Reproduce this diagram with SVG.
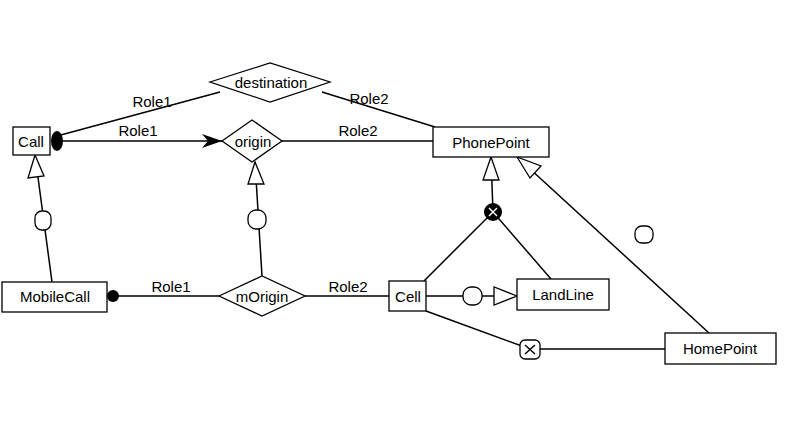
<svg xmlns="http://www.w3.org/2000/svg" width="790" height="423" viewBox="0 0 790 423">
<style>
.b{fill:#fff;stroke:#000;stroke-width:1.3}
.l{fill:none;stroke:#000;stroke-width:1.5}
text{font-family:"Liberation Sans",Arial,sans-serif;font-size:15px;fill:#000}
.c{text-anchor:middle}
</style>
<rect width="790" height="423" fill="#fff"/>
<g id="connectors">
<path class="l" d="M57 136L220 92M322 92L435 127M62 141L222 141M282 141L433 141"/>
<path d="M202 134L222 141L202 148L208 141Z" fill="#000"/>
<path class="l" d="M52 282L35 155M262 276L255 162M491 157L493 212M424 281L493 212L551 279M709 333L517 157M426 296L517 296M426 311L530 349L665 349M113 296L219 296M305 296L389 296"/>
<path class="b" d="M35 155L28 178L44 176Z"/>
<path class="b" d="M255 162L248 184L264 184Z"/>
<path class="b" d="M491 157L483 180L499 180Z"/>
<path class="b" d="M517 157L530 178L541 166Z"/>
<path class="b" d="M517 296L494 287L494 305Z"/>
<rect class="b" x="35" y="211" width="16" height="19" rx="7"/>
<rect class="b" x="248" y="210" width="18" height="19" rx="8"/>
<rect class="b" x="635" y="226" width="18" height="17" rx="7"/>
<rect class="b" x="463" y="287" width="19" height="18" rx="8"/>
<rect class="b" x="520" y="340" width="20" height="19" rx="5"/>
<path class="l" d="M525 345L535 354M535 345L525 354"/>
<circle cx="493" cy="212" r="9" fill="#000"/>
<path d="M489 208L497 216M497 208L489 216" stroke="#fff" stroke-width="1.5"/>
<ellipse cx="57" cy="141" rx="6" ry="10" fill="#000"/>
<circle cx="113" cy="296" r="6" fill="#000"/>
<text x="152" y="107" class="c">Role1</text>
<text x="369" y="104" class="c">Role2</text>
<text x="138" y="136" class="c">Role1</text>
<text x="358" y="136" class="c">Role2</text>
<text x="171" y="292" class="c">Role1</text>
<text x="348" y="292" class="c">Role2</text>
</g>
<g id="destination"><path class="b" d="M210 82L270 63L330 82L270 102Z"/><text x="271" y="88" class="c">destination</text></g>
<g id="origin"><path class="b" d="M222 141L252 120L282 141L252 162Z"/><text x="253" y="147" class="c">origin</text></g>
<g id="mOrigin"><path class="b" d="M219 296L262 276L305 296L262 316Z"/><text x="262" y="302" class="c">mOrigin</text></g>
<g id="Call"><rect class="b" x="13" y="127" width="37" height="28"/><text x="31" y="147" class="c">Call</text></g>
<g id="PhonePoint"><rect class="b" x="433" y="127" width="116" height="30"/><text x="491" y="148" class="c">PhonePoint</text></g>
<g id="MobileCall"><rect class="b" x="2" y="282" width="105" height="30"/><text x="55" y="302" class="c">MobileCall</text></g>
<g id="Cell"><rect class="b" x="389" y="281" width="37" height="30"/><text x="408" y="302" class="c">Cell</text></g>
<g id="LandLine"><rect class="b" x="517" y="279" width="92" height="31"/><text x="563" y="300" class="c">LandLine</text></g>
<g id="HomePoint"><rect class="b" x="665" y="333" width="111" height="31"/><text x="720" y="354" class="c">HomePoint</text></g>
</svg>
